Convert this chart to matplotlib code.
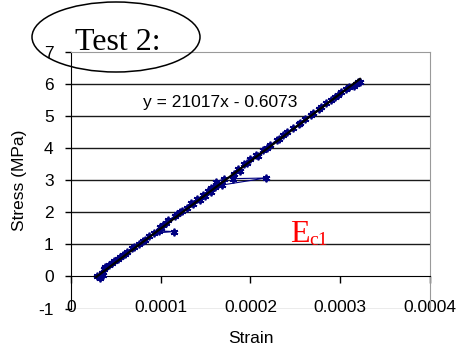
import matplotlib
matplotlib.use("Agg")
import matplotlib.pyplot as plt
import matplotlib.transforms as mtransforms
from matplotlib.patches import Ellipse
import numpy as np

# measured strain (micro-strain) and stress (MPa), in loading order
strain_ue = [29, 32, 32.5, 34, 37, 36, 42, 38, 48, 46, 52, 58, 55, 62, 60, 70, 68,
             76, 82, 80, 87, 92, 115, 98, 99, 102, 100, 108, 106, 116, 118, 124, 121,
             129, 134, 136, 140, 144, 147, 149, 153, 156, 156, 160, 164, 162, 171, 168,
             217, 180, 182, 186, 188, 193, 196, 200, 206, 208, 214, 218, 222, 229, 232,
             236, 241, 247, 254, 255, 261, 267, 270, 276, 279, 284, 290, 294, 297, 301,
             306, 310, 315, 320, 318, 322]
stress = [0.00, 0.02, -0.05, 0.10, 0.22, 0.05, 0.35, 0.30, 0.48, 0.42, 0.55, 0.68, 0.60,
          0.75, 0.70, 0.92, 0.88, 1.00, 1.15, 1.10, 1.25, 1.35, 1.40, 1.42, 1.55, 1.62,
          1.50, 1.75, 1.68, 1.90, 1.95, 2.05, 2.00, 2.15, 2.30, 2.25, 2.42, 2.38, 2.55,
          2.50, 2.68, 2.62, 2.75, 2.80, 2.88, 2.95, 3.05, 2.85, 3.07, 3.05, 3.20, 3.35,
          3.30, 3.50, 3.55, 3.65, 3.80, 3.75, 3.95, 4.00, 4.10, 4.25, 4.30, 4.40, 4.50,
          4.62, 4.75, 4.80, 4.90, 5.05, 5.10, 5.22, 5.30, 5.40, 5.50, 5.60, 5.65, 5.75,
          5.85, 5.90, 5.95, 6.05, 6.00, 6.08]

# linear trend fitted in the spreadsheet
slope = 21017
intercept = -0.6073

xticks = [0, 0.0001, 0.0002, 0.0003, 0.0004]
xticklabels = ["0", "0.0001", "0.0002", "0.0003", "0.0004"]
yticks = [-1, 0, 1, 2, 3, 4, 5, 6, 7]

strain = np.array(strain_ue) * 1e-6

plt.rcParams['font.family'] = ['Liberation Sans', 'DejaVu Sans']
plt.rcParams['axes.unicode_minus'] = False

fig = plt.figure(figsize=(4.62, 3.49), dpi=100)
ax = fig.add_axes([0.1537, 0.116, 0.777, 0.735])

# gridlines
for yv in yticks[2:-1]:
    ax.axhline(yv, color="#1a1a1a", lw=1.0, zorder=1)
ax.axhline(-1, color="#9a9a9a", lw=1.0, zorder=1)

ax.plot(strain, stress, color="#000080", lw=0.8, marker=(6, 2, 0),
        markersize=5.5, markeredgewidth=1.3, zorder=3)

xt = np.array([strain.min() - 1e-6, strain.max()])
ax.plot(xt, slope * xt + intercept, color="black", lw=1.6, zorder=4)

ax.set_xlim(0, 0.0004)
ax.set_ylim(-1, 7)
ax.set_xticks(xticks)
ax.set_xticklabels(xticklabels)
ax.set_yticks(yticks)

ax.spines["bottom"].set_position(("data", 0))
ax.spines["bottom"].set_color("black")
ax.spines["left"].set_color("black")
ax.spines["top"].set_color("#9a9a9a")
ax.spines["right"].set_color("#9a9a9a")
ax.tick_params(axis="x", direction="out", length=5, width=1, pad=12, labelsize=12.5)
ax.tick_params(axis="y", direction="out", length=4.5, width=1, pad=8, labelsize=12.5)

fig.text(0.543, 0.031, "Strain", ha="center", va="center", fontsize=12.5)
fig.text(0.043, 0.482, "Stress (MPa)", ha="center", va="center", rotation=90, fontsize=12.5)

ax.text(0.000166, 5.44, "y = 21017x - 0.6073", ha="center", va="center", fontsize=12.5, zorder=5)

# modulus label
ax.text(0.000244, 1.07, "E", color="red", fontsize=23, family="Liberation Serif",
        ha="left", va="baseline", zorder=5)
sub = mtransforms.offset_copy(ax.transData, fig=fig, x=14, y=-1.7, units="points")
ax.text(0.000244, 1.07, "c1", color="red", fontsize=14, family="Liberation Serif",
        ha="left", va="baseline", transform=sub, zorder=5)

fig.text(75 / 462, 1 - 50 / 349, "Test 2:", fontsize=23, family="Liberation Serif",
         ha="left", va="baseline")
fig.patches.append(Ellipse((116 / 462, 1 - 37 / 349), 168 / 462, 70 / 349,
                           transform=fig.transFigure, fill=False, edgecolor="black", lw=1.1))

fig.savefig("out.png", dpi=100)
